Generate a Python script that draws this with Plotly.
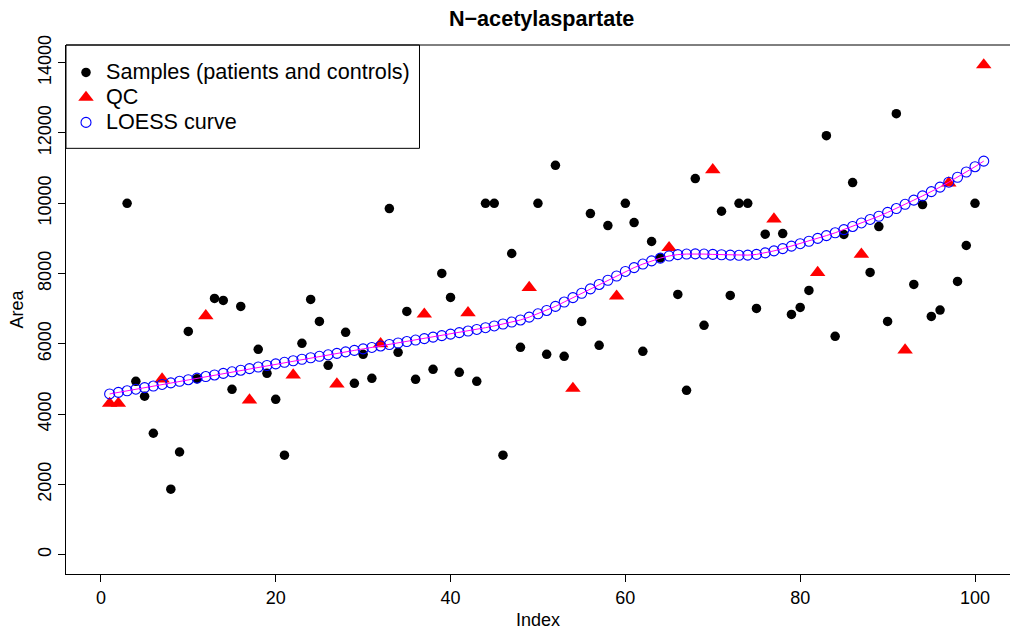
import plotly.graph_objects as go

title = "N\u2212acetylaspartate"

sample_idx = [3, 4, 5, 6, 8, 9, 10, 11, 13, 14, 15, 16, 18, 19, 20, 21, 23, 24, 25, 26,
              28, 29, 30, 31, 33, 34, 35, 36, 38, 39, 40, 41, 43, 44, 45, 46, 47, 48, 50,
              51, 52, 53, 55, 56, 57, 58, 60, 61, 62, 63, 64, 66, 67, 68, 69, 71, 72, 73,
              74, 75, 76, 78, 79, 80, 81, 83, 84, 85, 86, 88, 89, 90, 91, 93, 94, 95, 96,
              98, 99, 100]
sample_val = [10000, 4935, 4509, 3457, 1866, 2923, 6355, 5008, 7293, 7236, 4707, 7065,
              5844, 5162, 4423, 2832, 6014, 7264, 6639, 5389, 6327, 4878, 5702, 5020,
              9849, 5759, 6923, 4991, 5276, 8003, 7321, 5190, 4935, 10000, 10000, 2832,
              8571, 5901, 10000, 5702, 11080, 5645, 6639, 9707, 5957, 9366, 10000, 9452,
              5787, 8912, 8446, 7406, 4679, 10702, 6526, 9773, 7378, 10000, 10000, 7009,
              9119, 9139, 6838, 7037, 7520, 11923, 6213, 9111, 10588, 8031, 9338, 6639,
              12548, 7690, 9963, 6781, 6960, 7776, 8798, 10000]

qc_idx = [1, 2, 7, 12, 17, 22, 27, 32, 37, 42, 49, 54, 59, 65, 70, 77, 82, 87, 92, 97, 101]
qc_val = [4305, 4305, 4998, 6797, 4402, 5112, 4856, 6000, 6845, 6882, 7601, 4731, 7356,
          8737, 10953, 9552, 8027, 8549, 5822, 10575, 13936]

loess_idx = list(range(1, 102))
loess_val = [4575, 4620, 4665, 4710, 4755, 4800, 4845, 4890, 4935, 4980,
             5025, 5070, 5115, 5160, 5205, 5250, 5295, 5340, 5385, 5430,
             5475, 5520, 5562, 5604, 5646, 5688, 5730, 5772, 5814, 5856,
             5898, 5940, 5982, 6024, 6066, 6108, 6150, 6192, 6234, 6276,
             6320, 6365, 6410, 6460, 6510, 6565, 6620, 6680, 6760, 6855,
             6950, 7065, 7190, 7315, 7440, 7565, 7690, 7810, 7930, 8060,
             8170, 8270, 8360, 8440, 8500, 8540, 8555, 8560, 8555, 8545,
             8535, 8525, 8520, 8525, 8545, 8590, 8645, 8710, 8780, 8850,
             8920, 9000, 9080, 9160, 9250, 9340, 9440, 9540, 9630, 9740,
             9850, 9970, 10090, 10210, 10330, 10460, 10600, 10740, 10890, 11040,
             11200]

x_ticks = [0, 20, 40, 60, 80, 100]
y_ticks = [0, 2000, 4000, 6000, 8000, 10000, 12000, 14000]

FONT = "Liberation Sans, Arial, Helvetica, sans-serif"
LEG_TEXT = '<span style="font-size:21.6px">{}</span>'

fig = go.Figure()
fig.add_trace(go.Scatter(x=sample_idx, y=sample_val, mode="markers",
                         name=LEG_TEXT.format("Samples (patients and controls)"),
                         marker=dict(symbol="circle", size=9.5, color="black",
                                     line=dict(width=0))))
fig.add_trace(go.Scatter(x=qc_idx, y=qc_val, mode="markers", name=LEG_TEXT.format("QC"),
                         marker=dict(symbol="triangle-up", size=13.5, color="red",
                                     line=dict(width=0))))
fig.add_trace(go.Scatter(x=loess_idx, y=loess_val, mode="markers",
                         name=LEG_TEXT.format("LOESS curve"),
                         marker=dict(symbol="circle-open", size=10, color="blue",
                                     line=dict(width=1.1, color="blue"))))
fig.add_trace(go.Scatter(x=loess_idx, y=loess_val, mode="lines", showlegend=False,
                         line=dict(color="magenta", width=1)))

W, H = 1010, 630
L, T, B = 65.7, 44.5, 55.7
plot_w = W - L
plot_h = H - T - B
legend_right = 419.3
legend_bottom = 148

fig.update_layout(
    width=W, height=H,
    margin=dict(l=L, r=0, t=T, b=B, pad=0),
    paper_bgcolor="white", plot_bgcolor="white",
    font=dict(family=FONT, size=18, color="black"),
    title=dict(text="<b>" + title + "</b>", font=dict(size=21.6, family=FONT),
               xref="paper", x=(541.5 - L) / plot_w, xanchor="center",
               yref="container", y=1 - 18.5 / H, yanchor="middle"),
    showlegend=True,
    legend=dict(x=0, y=1 - 10 / plot_h, xanchor="left", yanchor="top",
                bgcolor="rgba(0,0,0,0)",
                borderwidth=0, font=dict(size=16.9, family=FONT),
                itemsizing="trace", tracegroupgap=0),
    shapes=[
        dict(type="rect", xref="paper", yref="paper", x0=0, x1=(legend_right - L) / plot_w,
             y0=1 - (legend_bottom - T) / plot_h, y1=1,
             line=dict(color="black", width=1), fillcolor="rgba(0,0,0,0)", layer="above"),
        dict(type="line", xref="paper", yref="paper", x0=0, x1=1.05, y0=1, y1=1,
             line=dict(color="black", width=1)),
    ],
)

fig.update_xaxes(range=[(L - 100.6) / 8.744, (W - 100.6) / 8.744],
                 tickvals=x_ticks, ticktext=[str(v) for v in x_ticks],
                 ticks="outside", ticklen=7, tickwidth=1, tickcolor="black",
                 showgrid=False, zeroline=False, showline=True, linecolor="black",
                 linewidth=1, tickfont=dict(size=18),
                 title=dict(text="Index", font=dict(size=18), standoff=8))
fig.update_yaxes(range=[-548, 14503],
                 tickvals=y_ticks, ticktext=[str(v) for v in y_ticks],
                 tickangle=-90,
                 ticks="outside", ticklen=7, tickwidth=1, tickcolor="black",
                 showgrid=False, zeroline=False, showline=True, linecolor="black",
                 linewidth=1, tickfont=dict(size=18),
                 title=dict(text="Area", font=dict(size=18), standoff=6))

fig.write_html("out.html")
